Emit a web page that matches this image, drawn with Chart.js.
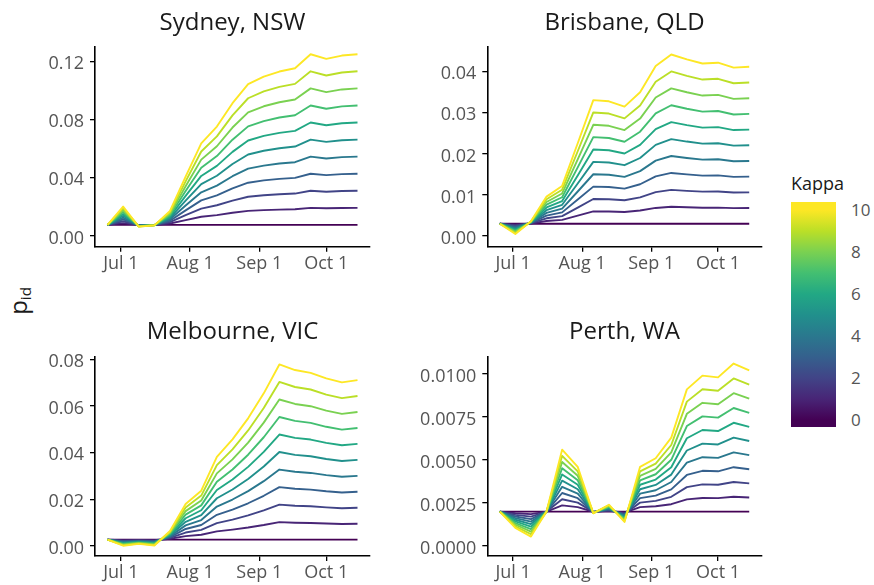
<!DOCTYPE html>
<html>
<head>
<meta charset="utf-8">
<script src="https://cdn.jsdelivr.net/npm/chart.js@4.4.1/dist/chart.umd.min.js"></script>
<style>
  html, body { margin: 0; padding: 0; background: #fff; }
  #wrap { position: relative; width: 874px; height: 585px; overflow: hidden; font-family: "Open Sans", sans-serif; }
  .panel { position: absolute; }
  .panel canvas { display: block; }
  #ytitle { position: absolute; left: 19px; top: 301px; transform: translate(-50%, -50%) rotate(-90deg);
            font-size: 24px; font-weight: 400; color: #1a1a1a; white-space: nowrap; line-height: 1; }
  #ytitle sub { font-size: 15px; vertical-align: -4px; }
  #kappaTitle { position: absolute; left: 791px; top: 175px; font-size: 18px; line-height: 17px; color: #1a1a1a; font-weight: 400; }
  #kappaBar { position: absolute; left: 791px; top: 202px; width: 45px; height: 225px; }
  .kappaLabel { position: absolute; left: 851px; font-size: 17px; line-height: 17px; color: #555; font-weight: 400; }
</style>
</head>
<body>
<div id="wrap">
  <div id="ytitle">p<sub>id</sub></div>
  <div id="kappaTitle">Kappa</div>
  <div id="kappaBar"></div>
</div>
<script>
// Weekly observation dates, as days from 1 July
const weekDays = [-6, 1, 8, 15, 22, 29, 36, 43, 50, 57, 64, 71, 78, 85, 92, 99, 106];
const dateTicks = [0, 31, 62, 92];
const dateLabels = ['Jul 1', 'Aug 1', 'Sep 1', 'Oct 1'];
const kappas = [0, 1, 2, 3, 4, 5, 6, 7, 8, 9, 10];
const legendTicks = [0, 2, 4, 6, 8, 10];

const viridis = ['#440154', '#482576', '#414487', '#35608D', '#2A788E', '#21908C',
                 '#22A884', '#43BF71', '#7AD151', '#BBDF27', '#FDE725'];

// p_id for each kappa (rows: kappa 0..10, columns: weekDays)
const sydney = [
  [0.0076,0.0076,0.0076,0.0076,0.0076,0.0076,0.0076,0.0076,0.0076,0.0076,0.0076,0.0076,0.0076,0.0076,0.0076,0.0076,0.0076],
  [0.0076,0.00886,0.00748,0.00757,0.00856,0.01093,0.01322,0.01437,0.01598,0.01729,0.01781,0.01816,0.01839,0.01935,0.01903,0.01926,0.01935],
  [0.0076,0.01012,0.00736,0.00754,0.00952,0.01426,0.01884,0.02114,0.02436,0.02698,0.02802,0.02872,0.02918,0.0311,0.03046,0.03092,0.0311],
  [0.0076,0.01138,0.00724,0.00751,0.01048,0.01759,0.02446,0.02791,0.03274,0.03667,0.03823,0.03928,0.03997,0.04285,0.04189,0.04258,0.04285],
  [0.0076,0.01264,0.00712,0.00748,0.01144,0.02092,0.03008,0.03468,0.04112,0.04636,0.04844,0.04984,0.05076,0.0546,0.05332,0.05424,0.0546],
  [0.0076,0.0139,0.007,0.00745,0.0124,0.02425,0.0357,0.04145,0.0495,0.05605,0.05865,0.0604,0.06155,0.06635,0.06475,0.0659,0.06635],
  [0.0076,0.01516,0.00688,0.00742,0.01336,0.02758,0.04132,0.04822,0.05788,0.06574,0.06886,0.07096,0.07234,0.0781,0.07618,0.07756,0.0781],
  [0.0076,0.01642,0.00676,0.00739,0.01432,0.03091,0.04694,0.05499,0.06626,0.07543,0.07907,0.08152,0.08313,0.08985,0.08761,0.08922,0.08985],
  [0.0076,0.01768,0.00664,0.00736,0.01528,0.03424,0.05256,0.06176,0.07464,0.08512,0.08928,0.09208,0.09392,0.1016,0.09904,0.10088,0.1016],
  [0.0076,0.01894,0.00652,0.00733,0.01624,0.03757,0.05818,0.06853,0.08302,0.09481,0.09949,0.10264,0.10471,0.11335,0.11047,0.11254,0.11335],
  [0.0076,0.0202,0.0064,0.0073,0.0172,0.0409,0.0638,0.0753,0.0914,0.1045,0.1097,0.1132,0.1155,0.1251,0.1219,0.1242,0.1251]
];

const brisbane = [
  [0.003,0.003,0.003,0.003,0.003,0.003,0.003,0.003,0.003,0.003,0.003,0.003,0.003,0.003,0.003,0.003,0.003],
  [0.003,0.00275,0.00306,0.00366,0.00392,0.00496,0.00601,0.00598,0.00585,0.0062,0.00684,0.00712,0.007,0.0069,0.00692,0.0068,0.00682],
  [0.003,0.0025,0.00312,0.00432,0.00484,0.00692,0.00902,0.00896,0.0087,0.0094,0.01068,0.01124,0.011,0.0108,0.01084,0.0106,0.01064],
  [0.003,0.00225,0.00318,0.00498,0.00576,0.00888,0.01203,0.01194,0.01155,0.0126,0.01452,0.01536,0.015,0.0147,0.01476,0.0144,0.01446],
  [0.003,0.002,0.00324,0.00564,0.00668,0.01084,0.01504,0.01492,0.0144,0.0158,0.01836,0.01948,0.019,0.0186,0.01868,0.0182,0.01828],
  [0.003,0.00175,0.0033,0.0063,0.0076,0.0128,0.01805,0.0179,0.01725,0.019,0.0222,0.0236,0.023,0.0225,0.0226,0.022,0.0221],
  [0.003,0.0015,0.00336,0.00696,0.00852,0.01476,0.02106,0.02088,0.0201,0.0222,0.02604,0.02772,0.027,0.0264,0.02652,0.0258,0.02592],
  [0.003,0.00125,0.00342,0.00762,0.00944,0.01672,0.02407,0.02386,0.02295,0.0254,0.02988,0.03184,0.031,0.0303,0.03044,0.0296,0.02974],
  [0.003,0.001,0.00348,0.00828,0.01036,0.01868,0.02708,0.02684,0.0258,0.0286,0.03372,0.03596,0.035,0.0342,0.03436,0.0334,0.03356],
  [0.003,0.00075,0.00354,0.00894,0.01128,0.02064,0.03009,0.02982,0.02865,0.0318,0.03756,0.04008,0.039,0.0381,0.03828,0.0372,0.03738],
  [0.003,0.0005,0.0036,0.0096,0.0122,0.0226,0.0331,0.0328,0.0315,0.035,0.0414,0.0442,0.043,0.042,0.0422,0.041,0.0412]
];

const melbourne = [
  [0.0027,0.0027,0.0027,0.0027,0.0027,0.0027,0.0027,0.0027,0.0027,0.0027,0.0027,0.0027,0.0027,0.0027,0.0027,0.0027,0.0027],
  [0.0027,0.00244,0.00252,0.00245,0.00307,0.00423,0.0048,0.00625,0.007,0.0079,0.00897,0.01021,0.00997,0.00985,0.00961,0.00944,0.00954],
  [0.0027,0.00218,0.00234,0.0022,0.00344,0.00576,0.0069,0.0098,0.0113,0.0131,0.01524,0.01772,0.01724,0.017,0.01652,0.01618,0.01638],
  [0.0027,0.00192,0.00216,0.00195,0.00381,0.00729,0.009,0.01335,0.0156,0.0183,0.02151,0.02523,0.02451,0.02415,0.02343,0.02292,0.02322],
  [0.0027,0.00166,0.00198,0.0017,0.00418,0.00882,0.0111,0.0169,0.0199,0.0235,0.02778,0.03274,0.03178,0.0313,0.03034,0.02966,0.03006],
  [0.0027,0.0014,0.0018,0.00145,0.00455,0.01035,0.0132,0.02045,0.0242,0.0287,0.03405,0.04025,0.03905,0.03845,0.03725,0.0364,0.0369],
  [0.0027,0.00114,0.00162,0.0012,0.00492,0.01188,0.0153,0.024,0.0285,0.0339,0.04032,0.04776,0.04632,0.0456,0.04416,0.04314,0.04374],
  [0.0027,0.00088,0.00144,0.00095,0.00529,0.01341,0.0174,0.02755,0.0328,0.0391,0.04659,0.05527,0.05359,0.05275,0.05107,0.04988,0.05058],
  [0.0027,0.00062,0.00126,0.0007,0.00566,0.01494,0.0195,0.0311,0.0371,0.0443,0.05286,0.06278,0.06086,0.0599,0.05798,0.05662,0.05742],
  [0.0027,0.00036,0.00108,0.00045,0.00603,0.01647,0.0216,0.03465,0.0414,0.0495,0.05913,0.07029,0.06813,0.06705,0.06489,0.06336,0.06426],
  [0.0027,0.0001,0.0009,0.0002,0.0064,0.018,0.0237,0.0382,0.0457,0.0547,0.0654,0.0778,0.0754,0.0742,0.0718,0.0701,0.0711]
];

const perth = [
  [0.002,0.002,0.002,0.002,0.002,0.002,0.002,0.002,0.002,0.002,0.002,0.002,0.002,0.002,0.002,0.002,0.002],
  [0.002,0.001905,0.001855,0.002,0.00236,0.00226,0.00199,0.00204,0.00194,0.00226,0.00231,0.00243,0.00271,0.00279,0.00278,0.00286,0.00282],
  [0.002,0.00181,0.00171,0.002,0.00272,0.00252,0.00198,0.00208,0.00188,0.00252,0.00262,0.00286,0.00342,0.00358,0.00356,0.00372,0.00364],
  [0.002,0.001715,0.001565,0.002,0.00308,0.00278,0.00197,0.00212,0.00182,0.00278,0.00293,0.00329,0.00413,0.00437,0.00434,0.00458,0.00446],
  [0.002,0.00162,0.00142,0.002,0.00344,0.00304,0.00196,0.00216,0.00176,0.00304,0.00324,0.00372,0.00484,0.00516,0.00512,0.00544,0.00528],
  [0.002,0.001525,0.001275,0.002,0.0038,0.0033,0.00195,0.0022,0.0017,0.0033,0.00355,0.00415,0.00555,0.00595,0.0059,0.0063,0.0061],
  [0.002,0.00143,0.00113,0.002,0.00416,0.00356,0.00194,0.00224,0.00164,0.00356,0.00386,0.00458,0.00626,0.00674,0.00668,0.00716,0.00692],
  [0.002,0.001335,0.000985,0.002,0.00452,0.00382,0.00193,0.00228,0.00158,0.00382,0.00417,0.00501,0.00697,0.00753,0.00746,0.00802,0.00774],
  [0.002,0.00124,0.00084,0.002,0.00488,0.00408,0.00192,0.00232,0.00152,0.00408,0.00448,0.00544,0.00768,0.00832,0.00824,0.00888,0.00856],
  [0.002,0.001145,0.000695,0.002,0.00524,0.00434,0.00191,0.00236,0.00146,0.00434,0.00479,0.00587,0.00839,0.00911,0.00902,0.00974,0.00938],
  [0.002,0.00105,0.00055,0.002,0.0056,0.0046,0.0019,0.0024,0.0014,0.0046,0.0051,0.0063,0.0091,0.0099,0.0098,0.0106,0.0102]
];

const sydneyTicks = [0, 0.04, 0.08, 0.12];
const brisbaneTicks = [0, 0.01, 0.02, 0.03, 0.04];
const melbourneTicks = [0, 0.02, 0.04, 0.06, 0.08];
const perthTicks = [0, 0.0025, 0.005, 0.0075, 0.01];

// Facet layout: canvas box on the page and the plotting area inside it
const panels = [
  { title: 'Sydney, NSW', series: sydney, ticks: sydneyTicks, decimals: 2, yMin: -0.0074, yMax: 0.1303,
    box: { left: 0, top: 0, w: 400, h: 292 }, area: { left: 95, right: 370, top: 46.7, bottom: 246.7 }, titleTop: 10 },
  { title: 'Brisbane, QLD', series: brisbane, ticks: brisbaneTicks, decimals: 2, yMin: -0.0026, yMax: 0.0461,
    box: { left: 400, top: 0, w: 380, h: 292 }, area: { left: 87.3, right: 361.7, top: 46.7, bottom: 246.7 }, titleTop: 10 },
  { title: 'Melbourne, VIC', series: melbourne, ticks: melbourneTicks, decimals: 2, yMin: -0.0043, yMax: 0.0812,
    box: { left: 0, top: 292, w: 400, h: 293 }, area: { left: 95, right: 370, top: 64.5, bottom: 264 }, titleTop: 27 },
  { title: 'Perth, WA', series: perth, ticks: perthTicks, decimals: 4, yMin: -0.00058, yMax: 0.0110,
    box: { left: 400, top: 292, w: 380, h: 293 }, area: { left: 87.3, right: 361.7, top: 64.7, bottom: 264 }, titleTop: 27 }
];

const FONT = "'Open Sans', sans-serif";
const TITLE_SIZE = 24, TITLE_LH = 1.2;
const TICK_FONT = { family: FONT, size: 18, weight: '400' };
const TICK_COLOR = '#555';

function axisLines() {
  return {
    grid: { display: true, drawOnChartArea: false, drawTicks: true, tickLength: 5, color: '#000', lineWidth: 1.3 },
    border: { display: true, color: '#000', width: 1.6 }
  };
}

function makePanel(p) {
  const holder = document.createElement('div');
  holder.className = 'panel';
  holder.style.left = p.box.left + 'px';
  holder.style.top = p.box.top + 'px';
  const canvas = document.createElement('canvas');
  canvas.width = p.box.w;
  canvas.height = p.box.h;
  holder.appendChild(canvas);
  document.getElementById('wrap').appendChild(holder);

  // highest kappa first so it is painted on top
  const datasets = kappas.slice().reverse().map(k => ({
    label: 'kappa ' + k,
    data: weekDays.map((d, i) => ({ x: d, y: p.series[k][i] })),
    borderColor: viridis[k],
    borderWidth: 1.9,
    borderJoinStyle: 'round',
    pointRadius: 0,
    fill: false,
    tension: 0
  }));

  new Chart(canvas, {
    type: 'line',
    data: { datasets },
    options: {
      responsive: false,
      animation: false,
      devicePixelRatio: 1,
      events: [],
      layout: { padding: { left: 0, right: p.box.w - p.area.right, top: 0, bottom: 0 } },
      plugins: {
        legend: { display: false },
        tooltip: { enabled: false },
        title: {
          display: true, text: p.title, fullSize: false, color: '#1a1a1a',
          font: { family: FONT, size: TITLE_SIZE, weight: 'normal', lineHeight: TITLE_LH },
          padding: { top: p.titleTop - 1, bottom: p.area.top - (p.titleTop - 1) - TITLE_SIZE * TITLE_LH }
        }
      },
      scales: {
        x: Object.assign({
          type: 'linear', min: -11.6, max: 111.6,
          afterBuildTicks: s => { s.ticks = dateTicks.map(v => ({ value: v })); },
          afterFit: s => { s.height = p.box.h - p.area.bottom; },
          ticks: { callback: v => dateLabels[dateTicks.indexOf(v)], color: TICK_COLOR, font: TICK_FONT,
                   padding: 1, maxRotation: 0, autoSkip: false }
        }, axisLines()),
        y: Object.assign({
          type: 'linear', min: p.yMin, max: p.yMax,
          afterBuildTicks: s => { s.ticks = p.ticks.map(v => ({ value: v })); },
          afterFit: s => { s.width = p.area.left; },
          ticks: { callback: v => v.toFixed(p.decimals), color: TICK_COLOR, font: TICK_FONT,
                   padding: 6, labelOffset: 2.5, autoSkip: false }
        }, axisLines())
      }
    }
  });
}

function makeLegend() {
  const wrap = document.getElementById('wrap');
  const bar = document.getElementById('kappaBar');
  // kappa 0 sits 7px above the bar bottom, kappa 10 sits 8px below its top
  const barH = 225, k0 = 7, k10 = 217;
  const stops = kappas.map(k => {
    const pos = (k0 + (k10 - k0) * k / 10) / barH * 100;
    return viridis[k] + ' ' + pos.toFixed(2) + '%';
  });
  bar.style.background = 'linear-gradient(to top, ' + viridis[0] + ' 0%, ' + stops.join(', ') + ', ' + viridis[10] + ' 100%)';
  legendTicks.forEach(k => {
    const el = document.createElement('div');
    el.className = 'kappaLabel';
    el.textContent = String(k);
    const cy = 202 + barH - k0 - (k10 - k0) * k / 10;
    el.style.top = (cy - 9) + 'px';
    wrap.appendChild(el);
  });
}

function build() {
  Chart.defaults.font.family = FONT;
  panels.forEach(makePanel);
  makeLegend();
}

if (document.fonts && document.fonts.load) {
  Promise.all([
    document.fonts.load("400 18px 'Open Sans'"),
    document.fonts.load("400 24px 'Open Sans'")
  ]).then(build, build);
} else {
  build();
}
</script>
</body>
</html>
